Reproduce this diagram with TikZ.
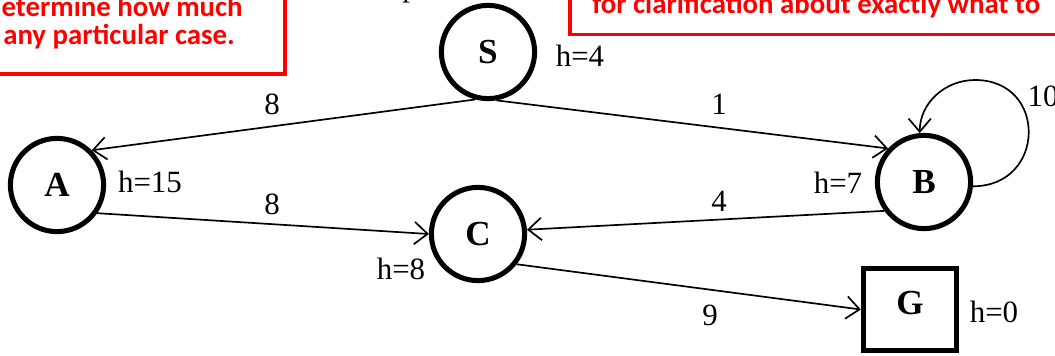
\documentclass[tikz,border=0pt]{standalone}
\usepackage{fontspec}
\setmainfont{Liberation Serif}
\newfontfamily\notefont{Carlito}
\usetikzlibrary{arrows.meta,positioning}
\definecolor{notered}{HTML}{FF0000}
\tikzset{
  state/.style={draw=black,circle,line width=3.6pt,minimum size=2.33cm,inner sep=0pt,font=\fontsize{25}{29}\selectfont\bfseries},
  goal/.style={draw=black,rectangle,line width=3.6pt,minimum width=2.33cm,minimum height=2.05cm,inner sep=0pt,text depth=.32cm,font=\fontsize{25}{29}\selectfont\bfseries},
  edge/.style={-{Straight Barb[length=3.3mm,width=5.6mm]},line width=1.2pt},
  lbl/.style={inner sep=0pt,font=\fontsize{22}{26}\selectfont},
  notebox/.style={draw=notered,line width=2.8pt},
  note/.style={inner sep=0pt,text=notered,font=\notefont\bfseries\fontsize{20.5}{22}\selectfont},
}

\begin{document}
\begin{tikzpicture}[x=0.025cm,y=-0.025cm]
    \useasboundingbox (0,0) rectangle (1055,356);
    % red notes, cut by the frame
    \draw[notebox] (-30,-30) rectangle (285,74);
    \draw[notebox] (570,-30) rectangle (1090,34.5);
    \node[note,anchor=base east] (noteA) at (243,16) {determine how much};
    \node[note,anchor=base west] (noteB) at (3,44) {any particular case.};
    \node[note,anchor=base west] (noteC) at (592,13) {for clarification about exactly what to};
    \node[lbl,anchor=base] (ptxt) at (410,-4) {p};
    % states
    \node[state] (S) at (488,52) {S};
    \node[state] (A) at (57,185) {A};
    \node[state] (B) at (924,182) {B};
    \node[state] (C) at (478,234) {C};
    \node[goal] (G) at (910,309.5) {G};
    \foreach \n/\x/\y/\h in {hS/580/56/4,hA/150/182/15,hB/838/183/7,hC/401/269/8,hG/994/312/0}
      \node[lbl] (\n) at (\x,\y) {h=\h};
    % edges
    \draw[edge] (S.255) -- (A.45);
    \draw[edge] (S.280) -- (B.137);
    \draw[edge] (A.-35) -- (C.west);
    \draw[edge] (B.216) -- (C.5);
    \draw[edge] (C.-38) -- (G.west);
    \coordinate (loopTop) at (975,80);
    \draw[edge] (B.-5) .. controls +(73,0) and +(73,0) .. (loopTop)
      .. controls +(-30,0) and +(0,-30) .. (B.95);
    \foreach \n/\x/\y/\c in {cSA/272/104/8,cSB/719/104/1,cAC/272/204/8,cBC/719/201/4,cCG/710/315/9,cBB/1043/96/10}
      \node[lbl] (\n) at (\x,\y) {\c};
\end{tikzpicture}
\end{document}
